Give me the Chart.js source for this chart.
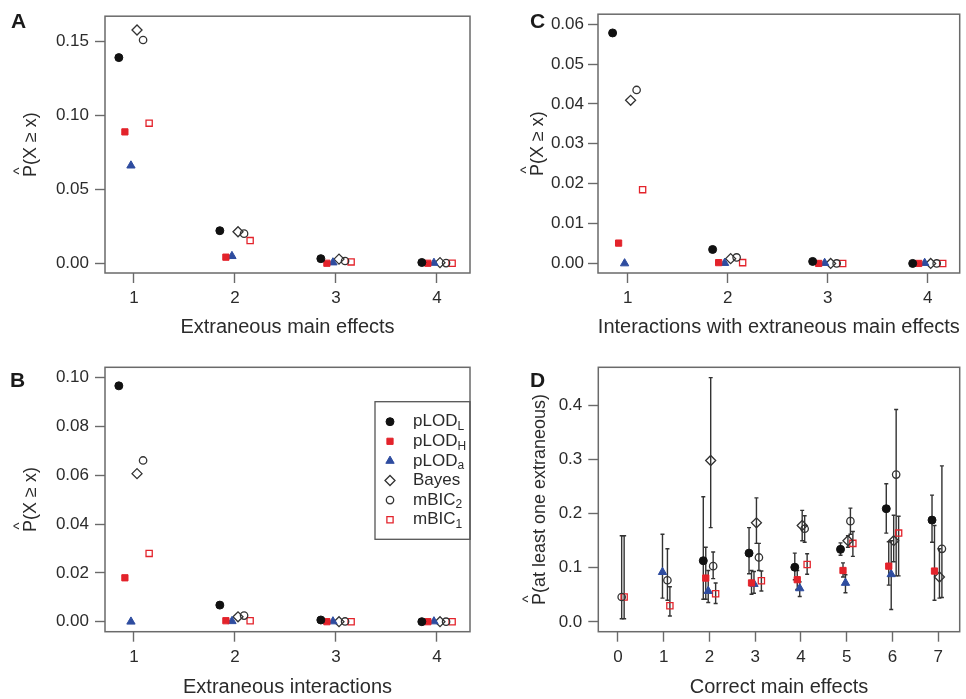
<!DOCTYPE html>
<html>
<head>
<meta charset="utf-8">
<script src="https://cdn.jsdelivr.net/npm/chart.js@4.4.1/dist/chart.umd.min.js"></script>
<style>
  body { margin: 0; background: #fff; }
  .panel { position: absolute; }
</style>
</head>
<body>
<div class="panel" style="left:0;top:0;width:483px;height:349px"><canvas id="chartA"></canvas></div>
<div class="panel" style="left:483px;top:0;width:483px;height:349px"><canvas id="chartC"></canvas></div>
<div class="panel" style="left:0;top:349px;width:483px;height:350px"><canvas id="chartB"></canvas></div>
<div class="panel" style="left:483px;top:349px;width:483px;height:350px"><canvas id="chartD"></canvas></div>
<script>
// series, in drawing / legend order
const seriesMain = ['pLOD', 'pLOD', 'pLOD', 'Bayes', 'mBIC', 'mBIC'];
const seriesSub = ['L', 'H', 'a', '', '2', '1'];

// A: extraneous main effects
const countsA = [1, 2, 3, 4];
const aPlodL = [0.139, 0.022, 0.0031, 0.0005];
const aPlodH = [0.0888, 0.0041, 0.0, 0.0];
const aPloda = [0.066, 0.0048, 0.0005, 0.0002];
const aBayes = [0.1577, 0.0213, 0.0028, 0.0004];
const aMbic2 = [0.1509, 0.020, 0.0015, 0.0001];
const aMbic1 = [0.0947, 0.0153, 0.0009, 0.0];
const yTicksA = [0, 0.05, 0.10, 0.15];
const yLabelsA = ['0.00', '0.05', '0.10', '0.15'];

// B: extraneous interactions
const countsB = [1, 2, 3, 4];
const bPlodL = [0.0967, 0.0068, 0.0007, 0.0];
const bPlodH = [0.018, 0.0004, 0.0, 0.0];
const bPloda = [0.0, 0.0002, 0.0001, 0.0001];
const bBayes = [0.0607, 0.002, 0.0, 0.0];
const bMbic2 = [0.0661, 0.0025, 0.0001, 0.0];
const bMbic1 = [0.028, 0.0004, 0.0, 0.0];
const yTicksB = [0, 0.02, 0.04, 0.06, 0.08, 0.10];
const yLabelsB = ['0.00', '0.02', '0.04', '0.06', '0.08', '0.10'];

// C: interactions with extraneous main effects
const countsC = [1, 2, 3, 4];
const cPlodL = [0.0578, 0.0035, 0.0005, 0.0];
const cPlodH = [0.0051, 0.0002, 0.0, 0.0];
const cPloda = [0.0, 0.0001, 0.0001, 0.0001];
const cBayes = [0.0409, 0.0012, 0.0, 0.0];
const cMbic2 = [0.0435, 0.0015, 0.0, 0.0];
const cMbic1 = [0.0185, 0.0002, 0.0, 0.0];
const yTicksC = [0, 0.01, 0.02, 0.03, 0.04, 0.05, 0.06];
const yLabelsC = ['0.00', '0.01', '0.02', '0.03', '0.04', '0.05', '0.06'];

// D: correct main effects, estimate with lower / upper interval
const countsD = [0, 1, 2, 3, 4, 5, 6, 7];
const dPlodL   = [null, null, 0.113, 0.127, 0.101, 0.134, 0.209, 0.188];
const dPlodLLo = [null, null, 0.042, 0.089, 0.078, 0.123, 0.164, 0.147];
const dPlodLHi = [null, null, 0.231, 0.174, 0.127, 0.146, 0.255, 0.234];
const dPlodH   = [null, null, 0.081, 0.072, 0.078, 0.095, 0.103, 0.094];
const dPlodHLo = [null, null, 0.042, 0.051, 0.060, 0.083, 0.068, 0.040];
const dPlodHHi = [null, null, 0.138, 0.095, 0.095, 0.109, 0.148, 0.178];
const dPloda   = [null, 0.092, 0.057, 0.070, 0.062, 0.072, 0.088, null];
const dPlodaLo = [null, 0.044, 0.036, 0.053, 0.047, 0.054, 0.023, null];
const dPlodaHi = [null, 0.162, 0.095, 0.093, 0.074, 0.087, 0.150, null];
const dBayes   = [null, null, 0.298, 0.183, 0.178, 0.150, 0.150, 0.083];
const dBayesLo = [null, null, 0.174, 0.145, 0.150, 0.138, 0.111, 0.044];
const dBayesHi = [null, null, 0.451, 0.229, 0.206, 0.159, 0.197, 0.135];
const dMbic2   = [0.046, 0.077, 0.103, 0.119, 0.172, 0.186, 0.272, 0.135];
const dMbic2Lo = [0.006, 0.040, 0.080, 0.095, 0.147, 0.162, 0.085, 0.045];
const dMbic2Hi = [0.159, 0.135, 0.129, 0.145, 0.196, 0.210, 0.392, 0.288];
const dMbic1   = [0.046, 0.030, 0.052, 0.076, 0.106, 0.145, 0.164, null];
const dMbic1Lo = [0.006, 0.011, 0.034, 0.057, 0.088, 0.121, 0.085, null];
const dMbic1Hi = [0.159, 0.065, 0.072, 0.094, 0.126, 0.167, 0.195, null];
const yTicksD = [0, 0.1, 0.2, 0.3, 0.4];
const yLabelsD = ['0.0', '0.1', '0.2', '0.3', '0.4'];

const FONT = '"Liberation Sans", Arial, Helvetica, sans-serif';
const RED = '#e3232b';
const BLUE = '#2e4c9f';
const INK = '#2b2b2b';

const markerStyles = [
  { pointStyle: 'circle', backgroundColor: '#111', borderColor: '#111', borderWidth: 1, pointRadius: 4 },
  { pointStyle: 'rect', backgroundColor: RED, borderColor: RED, borderWidth: 1, pointRadius: 4.4 },
  { pointStyle: 'triangle', backgroundColor: BLUE, borderColor: BLUE, borderWidth: 1, pointRadius: 4.8 },
  { pointStyle: 'rectRot', backgroundColor: 'rgba(0,0,0,0)', borderColor: '#333', borderWidth: 1.3, pointRadius: 5 },
  { pointStyle: 'circle', backgroundColor: 'rgba(0,0,0,0)', borderColor: '#333', borderWidth: 1.3, pointRadius: 3.7 },
  { pointStyle: 'rect', backgroundColor: 'rgba(0,0,0,0)', borderColor: RED, borderWidth: 1.3, pointRadius: 4.4 }
];

function buildSets(counts, series, offsets, lows, highs) {
  return series.map((vals, i) => {
    const pts = [], lo = [], hi = [];
    vals.forEach((v, j) => {
      if (v === null) return;
      pts.push({ x: counts[j] + offsets[i], y: v });
      lo.push(lows ? lows[i][j] : null);
      hi.push(highs ? highs[i][j] : null);
    });
    return Object.assign({ label: seriesMain[i] + seriesSub[i], data: pts, lo: lo, hi: hi }, markerStyles[i]);
  });
}

const panelPlugin = {
  id: 'panel',
  // error bars go under the points
  beforeDatasetsDraw(chart, args, opts) {
    const { ctx } = chart;
    const xs = chart.scales.x, ys = chart.scales.y;
    ctx.save();
    ctx.strokeStyle = '#333';
    ctx.lineWidth = 1.4;
    chart.data.datasets.forEach(ds => {
      ds.data.forEach((p, k) => {
        if (ds.lo[k] === null || ds.lo[k] === undefined) return;
        const px = xs.getPixelForValue(p.x);
        const y1 = ys.getPixelForValue(ds.lo[k]);
        const y2 = ys.getPixelForValue(ds.hi[k]);
        ctx.beginPath();
        ctx.moveTo(px, y1); ctx.lineTo(px, y2);
        ctx.moveTo(px - 2, y1); ctx.lineTo(px + 2, y1);
        ctx.moveTo(px - 2, y2); ctx.lineTo(px + 2, y2);
        ctx.stroke();
      });
    });
    ctx.restore();
  },
  afterDraw(chart, args, opts) {
    const { ctx, chartArea: a } = chart;
    ctx.save();
    // plot box
    ctx.strokeStyle = '#6a6a6a';
    ctx.lineWidth = 1.5;
    ctx.strokeRect(a.left, a.top, a.right - a.left, a.bottom - a.top);

    // panel letter
    ctx.fillStyle = '#1a1a1a';
    ctx.font = 'bold 21px ' + FONT;
    ctx.textAlign = 'left';
    ctx.textBaseline = 'alphabetic';
    ctx.fillText(opts.letter, opts.letterX, opts.letterY);

    // x title
    ctx.fillStyle = INK;
    ctx.font = '20px ' + FONT;
    ctx.textAlign = 'center';
    ctx.fillText(opts.xTitle, (a.left + a.right) / 2, a.bottom + opts.xTitleGap);

    // y title with a hat over the P
    ctx.save();
    ctx.translate(opts.yTitleX, (a.top + a.bottom) / 2);
    ctx.rotate(-Math.PI / 2);
    ctx.font = '18px ' + FONT;
    const w = ctx.measureText(opts.yTitle).width;
    const pw = ctx.measureText('P').width;
    ctx.textAlign = 'left';
    ctx.fillText(opts.yTitle, -w / 2, 0);
    ctx.font = '15px ' + FONT;
    ctx.textAlign = 'center';
    ctx.fillText('^', -w / 2 + pw / 2, -12);
    ctx.restore();

    // legend
    if (opts.legend) {
      const L = opts.legend;
      ctx.strokeStyle = '#555';
      ctx.lineWidth = 1.3;
      ctx.strokeRect(L.left, L.top, L.width, L.height);
      chart.data.datasets.forEach((ds, i) => {
        const cy = L.top + L.firstRow + i * L.rowGap;
        ctx.fillStyle = ds.backgroundColor;
        ctx.strokeStyle = ds.borderColor;
        ctx.lineWidth = ds.borderWidth;
        Chart.helpers.drawPoint(ctx, {
          pointStyle: ds.pointStyle, radius: ds.pointRadius, borderWidth: ds.borderWidth
        }, L.left + L.symbolX, cy);
        ctx.fillStyle = INK;
        ctx.font = '17px ' + FONT;
        ctx.textAlign = 'left';
        ctx.textBaseline = 'middle';
        const tx = L.left + L.textX;
        ctx.fillText(seriesMain[i], tx, cy);
        if (seriesSub[i]) {
          const mw = ctx.measureText(seriesMain[i]).width;
          ctx.font = '12px ' + FONT;
          ctx.fillText(seriesSub[i], tx + mw, cy + 5);
        }
      });
    }
    ctx.restore();
  }
};

function makePanel(id, p) {
  new Chart(document.getElementById(id), {
    type: 'scatter',
    data: { datasets: p.datasets },
    plugins: [panelPlugin],
    options: {
      responsive: true,
      maintainAspectRatio: false,
      animation: false,
      layout: { padding: p.padding },
      plugins: {
        legend: { display: false },
        tooltip: { enabled: false },
        panel: p.deco
      },
      scales: {
        x: {
          type: 'linear',
          min: p.xMin, max: p.xMax,
          afterBuildTicks: s => { s.ticks = p.xTicks.map(v => ({ value: v })); },
          afterFit: s => { s.height = p.xAxisHeight; },
          ticks: {
            callback: v => String(v),
            color: INK, padding: 5, maxRotation: 0,
            font: { family: FONT, size: 17 }
          },
          grid: { drawOnChartArea: false, drawTicks: true, tickLength: 10, color: '#6a6a6a', tickWidth: 1.4 },
          border: { display: false }
        },
        y: {
          type: 'linear',
          min: p.yMin, max: p.yMax,
          afterBuildTicks: s => { s.ticks = p.yTicks.map(v => ({ value: v })); },
          afterFit: s => { s.width = p.yAxisWidth; },
          ticks: {
            callback: v => p.yLabels[p.yTicks.indexOf(v)],
            color: INK, padding: p.yTickPad,
            font: { family: FONT, size: 17 }
          },
          grid: { drawOnChartArea: false, drawTicks: true, tickLength: 10, color: '#6a6a6a', tickWidth: 1.4 },
          border: { display: false }
        }
      }
    }
  });
}

const offsAC = [-0.15, -0.09, -0.03, 0.03, 0.09, 0.15];
const offsD = [-0.135, -0.081, -0.027, 0.027, 0.081, 0.135];

makePanel('chartA', {
  datasets: buildSets(countsA, [aPlodL, aPlodH, aPloda, aBayes, aMbic2, aMbic1], offsAC),
  padding: { left: 0, top: 9, right: 13, bottom: 0 },
  xMin: 0.713, xMax: 4.327, xTicks: countsA, xAxisHeight: 76,
  yMin: -0.0066, yMax: 0.167, yTicks: yTicksA, yLabels: yLabelsA, yAxisWidth: 105, yTickPad: 6,
  deco: { letter: 'A', letterX: 11, letterY: 28, xTitle: 'Extraneous main effects', xTitleGap: 60,
          yTitle: 'P(X \u2265 x)', yTitleX: 36 }
});

makePanel('chartC', {
  datasets: buildSets(countsC, [cPlodL, cPlodH, cPloda, cBayes, cMbic2, cMbic1], offsAC),
  padding: { left: 0, top: 9, right: 5, bottom: 0 },
  xMin: 0.704, xMax: 4.32, xTicks: countsC, xAxisHeight: 76,
  yMin: -0.0024, yMax: 0.0625, yTicks: yTicksC, yLabels: yLabelsC, yAxisWidth: 115, yTickPad: 4,
  deco: { letter: 'C', letterX: 47, letterY: 28, xTitle: 'Interactions with extraneous main effects', xTitleGap: 60,
          yTitle: 'P(X \u2265 x)', yTitleX: 60 }
});

makePanel('chartB', {
  datasets: buildSets(countsB, [bPlodL, bPlodH, bPloda, bBayes, bMbic2, bMbic1], offsAC),
  padding: { left: 0, top: 18.3, right: 13, bottom: 0 },
  xMin: 0.713, xMax: 4.327, xTicks: countsB, xAxisHeight: 67.3,
  yMin: -0.0041, yMax: 0.1043, yTicks: yTicksB, yLabels: yLabelsB, yAxisWidth: 105, yTickPad: 6,
  deco: { letter: 'B', letterX: 10, letterY: 38, xTitle: 'Extraneous interactions', xTitleGap: 61,
          yTitle: 'P(X \u2265 x)', yTitleX: 36,
          legend: { left: 375, top: 52.7, width: 95, height: 137.6, firstRow: 20, rowGap: 19.6, symbolX: 15, textX: 38 } }
});

makePanel('chartD', {
  datasets: buildSets(countsD, [dPlodL, dPlodH, dPloda, dBayes, dMbic2, dMbic1], offsD,
    [dPlodLLo, dPlodHLo, dPlodaLo, dBayesLo, dMbic2Lo, dMbic1Lo],
    [dPlodLHi, dPlodHHi, dPlodaHi, dBayesHi, dMbic2Hi, dMbic1Hi]),
  padding: { left: 0, top: 18.3, right: 2.5, bottom: 0 },
  xMin: -0.43, xMax: 7.47, xTicks: countsD, xAxisHeight: 67.3,
  yMin: -0.018, yMax: 0.47, yTicks: yTicksD, yLabels: yLabelsD, yAxisWidth: 115.3, yTickPad: 6,
  deco: { letter: 'D', letterX: 47, letterY: 38, xTitle: 'Correct main effects', xTitleGap: 61,
          yTitle: 'P(at least one extraneous)', yTitleX: 62 }
});
</script>
</body>
</html>
